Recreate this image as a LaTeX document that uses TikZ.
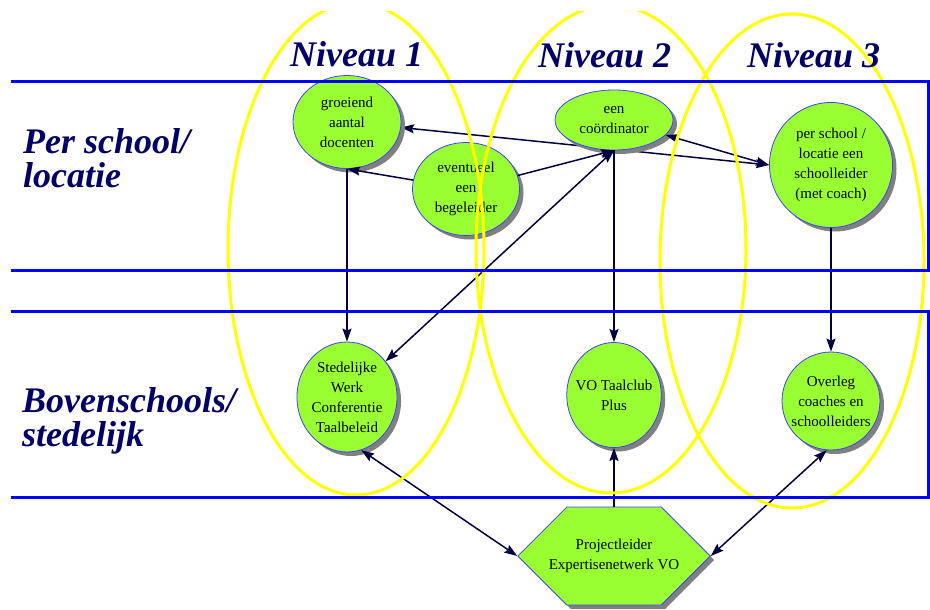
\documentclass[tikz,border=0pt]{standalone}
\usepackage{fontspec}
\setmainfont{Liberation Serif}
\usetikzlibrary{shapes.geometric, shapes.symbols, arrows.meta, shadows, positioning}
\definecolor{headnavy}{RGB}{0,0,102}
\definecolor{linknavy}{RGB}{0,0,64}
\definecolor{leafgreen}{RGB}{153,255,51}
\definecolor{laneblue}{RGB}{0,0,255}
\definecolor{levelyellow}{RGB}{255,255,0}
\tikzstyle{role} = [
    ellipse,
    draw=blue!75,
    line width=0.8pt,
    fill=leafgreen,
    inner sep=0pt,
    align=center,
    font=\fontsize{15}{20}\selectfont,
    drop shadow={shadow xshift=4pt, shadow yshift=-4pt, fill=gray, opacity=1}
]
\tikzstyle{leader} = [
    signal,
    signal to=east and west,
    minimum height=98pt,
    inner xsep=-18pt,
    draw=blue!75,
    line width=0.8pt,
    fill=leafgreen,
    align=center,
    font=\fontsize{15}{20}\selectfont,
    drop shadow={shadow xshift=4pt, shadow yshift=-4pt, fill=gray, opacity=1}
]
\tikzstyle{arrow} = [
    line width=1.5pt,
    draw=linknavy,
    >={Stealth[length=13pt, width=9pt, inset=2pt]}
]
\tikzstyle{level} = [draw=levelyellow, line width=3pt]
\tikzstyle{lane} = [draw=laneblue, line width=3pt]
\tikzstyle{heading} = [
    text=headnavy,
    font=\fontsize{36}{34}\selectfont\bfseries\itshape,
    inner sep=0pt,
    anchor=base west,
    align=left
]
\pgfdeclarelayer{background}
\pgfdeclarelayer{foreground}
\pgfsetlayers{background,main,foreground}
\begin{document}
\begin{tikzpicture}[x=1pt, y=-1pt, node distance=275pt]
        \useasboundingbox (0,0) rectangle (930,610);
        \node (docenten) [role, minimum width=108pt, minimum height=93pt] at (347,122) {groeiend\\aantal\\docenten};
        \node (coordinator) [role, minimum width=118pt, minimum height=60pt] at (614,120) {een\\coördinator};
        \node (begeleider) [role, minimum width=107pt, minimum height=93pt] at (466,189) {eventueel\\een\\begeleider};
        \node (schoolleider) [role, minimum width=123pt, minimum height=125pt] at (831,165) {per school /\\locatie een\\schoolleider\\(met coach)};
        \node (conferentie) [role, below of=docenten, minimum width=100pt, minimum height=110pt] {Stedelijke\\Werk\\Conferentie\\Taalbeleid};
        \node (taalclub) [role, below of=coordinator, minimum width=94pt, minimum height=105pt, inner xsep=-5pt] {VO Taalclub\\Plus};
        \node (overleg) [role, below of=schoolleider, yshift=39pt, minimum width=98pt, minimum height=98pt, inner xsep=-5pt] {Overleg\\coaches en\\schoolleiders};
        \node (projectleider) [leader] at (614,556) {Projectleider\\Expertisenetwerk VO};

        \begin{pgfonlayer}{background}
        \draw[arrow, <->] (docenten) -- (schoolleider.west);
        \end{pgfonlayer}
        \draw[arrow, ->] (docenten) -- (conferentie);
        \draw[arrow, ->] (coordinator) -- (taalclub);
        \draw[arrow, ->] (schoolleider) -- (overleg);
        \draw[arrow, ->] (begeleider) -- (docenten.south);
        \draw[arrow, ->] (begeleider) -- (coordinator.south);
        \draw[arrow, <->] (conferentie) -- (coordinator.south);
        \draw[arrow, <->] (coordinator) -- (schoolleider.west);
        \draw[arrow, <->] (projectleider.west) -- (conferentie.-75);
        \draw[arrow, ->] (projectleider.north) -- (taalclub);
        \draw[arrow, <->] (projectleider.east) -- (overleg.-95);

        \begin{pgfonlayer}{foreground}
        \begin{scope}
            \clip (0,12) rectangle (930,610);
            \draw[level] (356,249) ellipse [x radius=128, y radius=246];
            \draw[level] (611,249) ellipse [x radius=135, y radius=244];
            \draw[level] (792,261) ellipse [x radius=132, y radius=247];
        \end{scope}
        \draw[lane] (11,82) -- (928,82) -- (928,270) -- (11,270);
        \draw[lane] (11,311) -- (928,311) -- (928,497) -- (11,497);
        \node (niveau1) [heading] at (290,67) {Niveau 1};
        \node (niveau2) [heading] at (538,68) {Niveau 2};
        \node (niveau3) [heading] at (747,68) {Niveau 3};
        \node (perschool) [heading] at (23,187) {Per school/\\locatie};
        \node (bovenschools) [heading] at (22,446) {Bovenschools/\\stedelijk};
        \end{pgfonlayer}
    \end{tikzpicture}
\end{document}
